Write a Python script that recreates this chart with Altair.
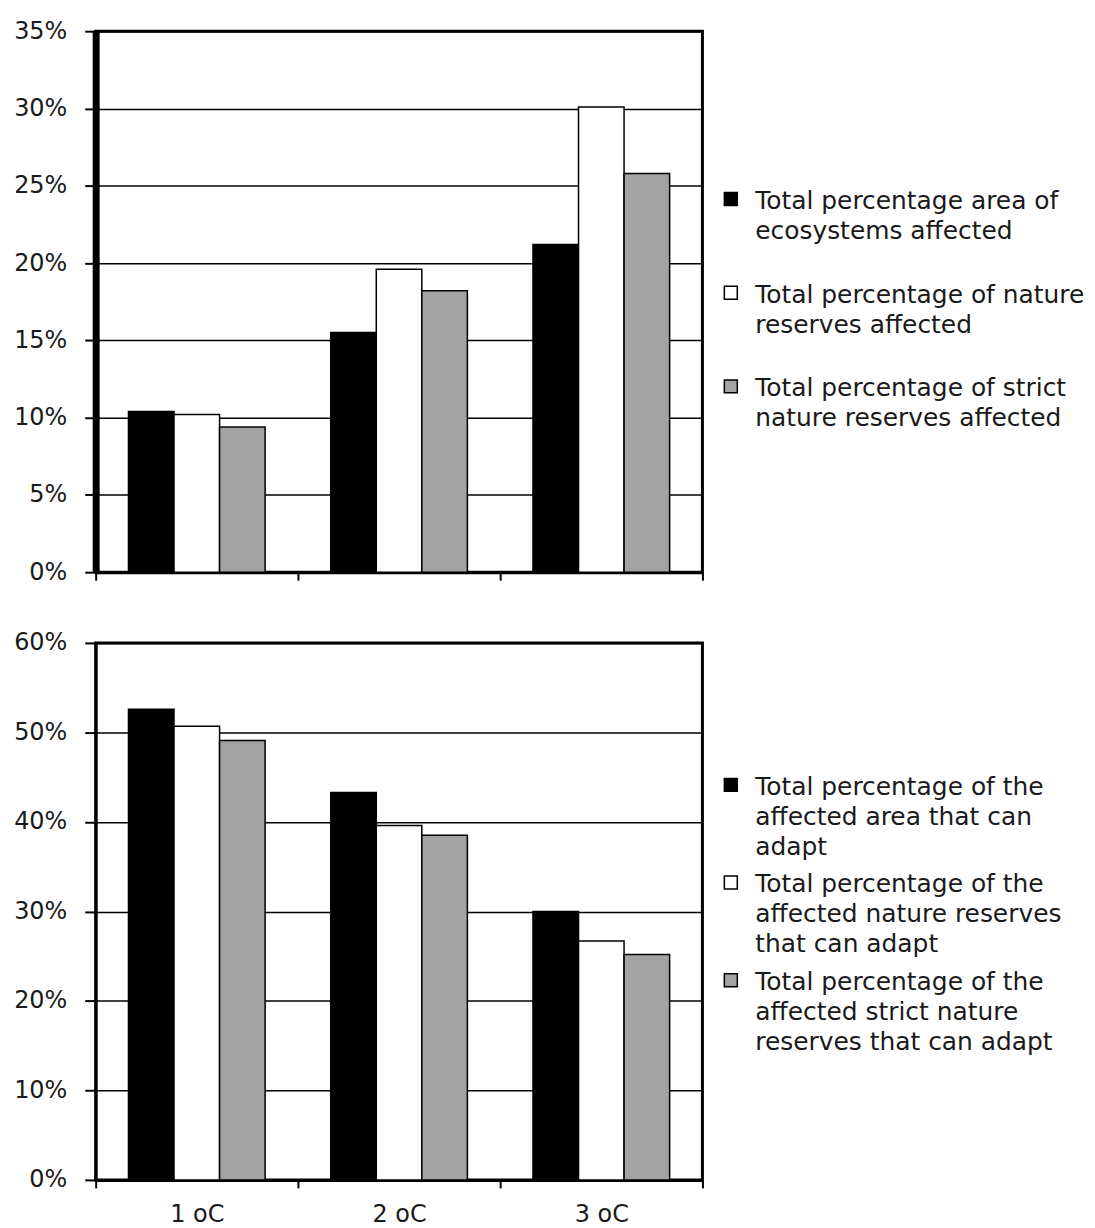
import altair as alt
import pandas as pd

# ---------------- data ----------------
categories = ["1 oC", "2 oC", "3 oC"]

top_series = [
    "Total percentage area of|ecosystems affected",
    "Total percentage of nature|reserves affected",
    "Total percentage of strict|nature reserves affected",
]
top_ecosystems = [10.4, 15.5, 21.2]
top_reserves = [10.2, 19.6, 30.1]
top_strict = [9.4, 18.2, 25.8]

bottom_series = [
    "Total percentage of the|affected area that can|adapt",
    "Total percentage of the|affected nature reserves|that can adapt",
    "Total percentage of the|affected strict nature|reserves that can adapt",
]
bottom_area = [52.6, 43.3, 30.0]
bottom_reserves = [50.7, 39.6, 26.7]
bottom_strict = [49.1, 38.5, 25.2]

top_ticks = [0, 5, 10, 15, 20, 25, 30, 35]
bottom_ticks = [0, 10, 20, 30, 40, 50, 60]

bar_colors = ["#000000", "#ffffff", "#a3a3a3"]

FONT = "DejaVu Sans"
TEXT = "#1a1a1a"


def build_df(series, lists):
    rows = []
    for s, vals in zip(series, lists):
        for c, v in zip(categories, vals):
            rows.append({"category": c, "series": s, "value": v})
    return pd.DataFrame(rows)


def panel(series, lists, ticks, height, show_labels, y_domain_w, legend_y, row_pad):
    df = build_df(series, lists)
    return (
        alt.Chart(df)
        .mark_bar(stroke="black", strokeWidth=1.5)
        .encode(
            x=alt.X(
                "category:N",
                sort=categories,
                scale=alt.Scale(paddingInner=0, paddingOuter=0),
                axis=alt.Axis(
                    title=None,
                    labels=show_labels,
                    labelAngle=0,
                    labelFont=FONT,
                    labelFontSize=24,
                    labelColor=TEXT,
                    labelPadding=15,
                    tickBand="extent",
                    tickSize=8,
                    tickWidth=2,
                    tickColor="black",
                    domainColor="black",
                    domainWidth=3,
                    grid=False,
                ),
            ),
            xOffset=alt.XOffset(
                "series:N",
                sort=series,
                scale=alt.Scale(paddingInner=0, paddingOuter=0.72),
            ),
            y=alt.Y(
                "value:Q",
                scale=alt.Scale(domain=[ticks[0], ticks[-1]], nice=False),
                axis=alt.Axis(
                    title=None,
                    values=ticks,
                    labelExpr="datum.value + '%'",
                    labelFont=FONT,
                    labelFontSize=24,
                    labelColor=TEXT,
                    labelPadding=18,
                    tickSize=11,
                    tickWidth=2,
                    tickColor="black",
                    domainColor="black",
                    domainWidth=y_domain_w,
                    grid=True,
                    gridColor="black",
                    gridWidth=1.5,
                ),
            ),
            color=alt.Color(
                "series:N",
                sort=series,
                scale=alt.Scale(domain=series, range=bar_colors),
                legend=alt.Legend(
                    title=None,
                    orient="none",
                    legendX=625,
                    legendY=legend_y,
                    padding=0,
                    rowPadding=row_pad,
                    labelExpr="split(datum.label, '|')",
                    labelFont=FONT,
                    labelFontSize=25,
                    labelColor=TEXT,
                    labelBaseline="top",
                    labelLimit=600,
                    labelOffset=12,
                    symbolType="M-1,0.54H1V2.54H-1Z",
                    symbolSize=169,
                    symbolStrokeColor="black",
                    symbolStrokeWidth=1.5,
                    symbolOpacity=1,
                ),
            ),
        )
        .properties(
            width=609,
            height=height,
            view=alt.ViewBackground(stroke="black", strokeWidth=3, fill="white"),
        )
    )


top = panel(top_series, [top_ecosystems, top_reserves, top_strict],
            top_ticks, 543, False, 7, 146, 26)
bottom = panel(bottom_series, [bottom_area, bottom_reserves, bottom_strict],
               bottom_ticks, 539, True, 3, 120, -6)

chart = (
    alt.vconcat(top, bottom, spacing=43)
    .resolve_scale(color="independent", xOffset="independent")
    .resolve_legend(color="independent")
    .properties(padding={"top": 7, "left": 4, "right": 0, "bottom": 0})
    .configure(background="white", style={"guide-label": {"lineHeight": 30}})
)

chart.save("out.html", embed_options={"renderer": "svg", "actions": False})
